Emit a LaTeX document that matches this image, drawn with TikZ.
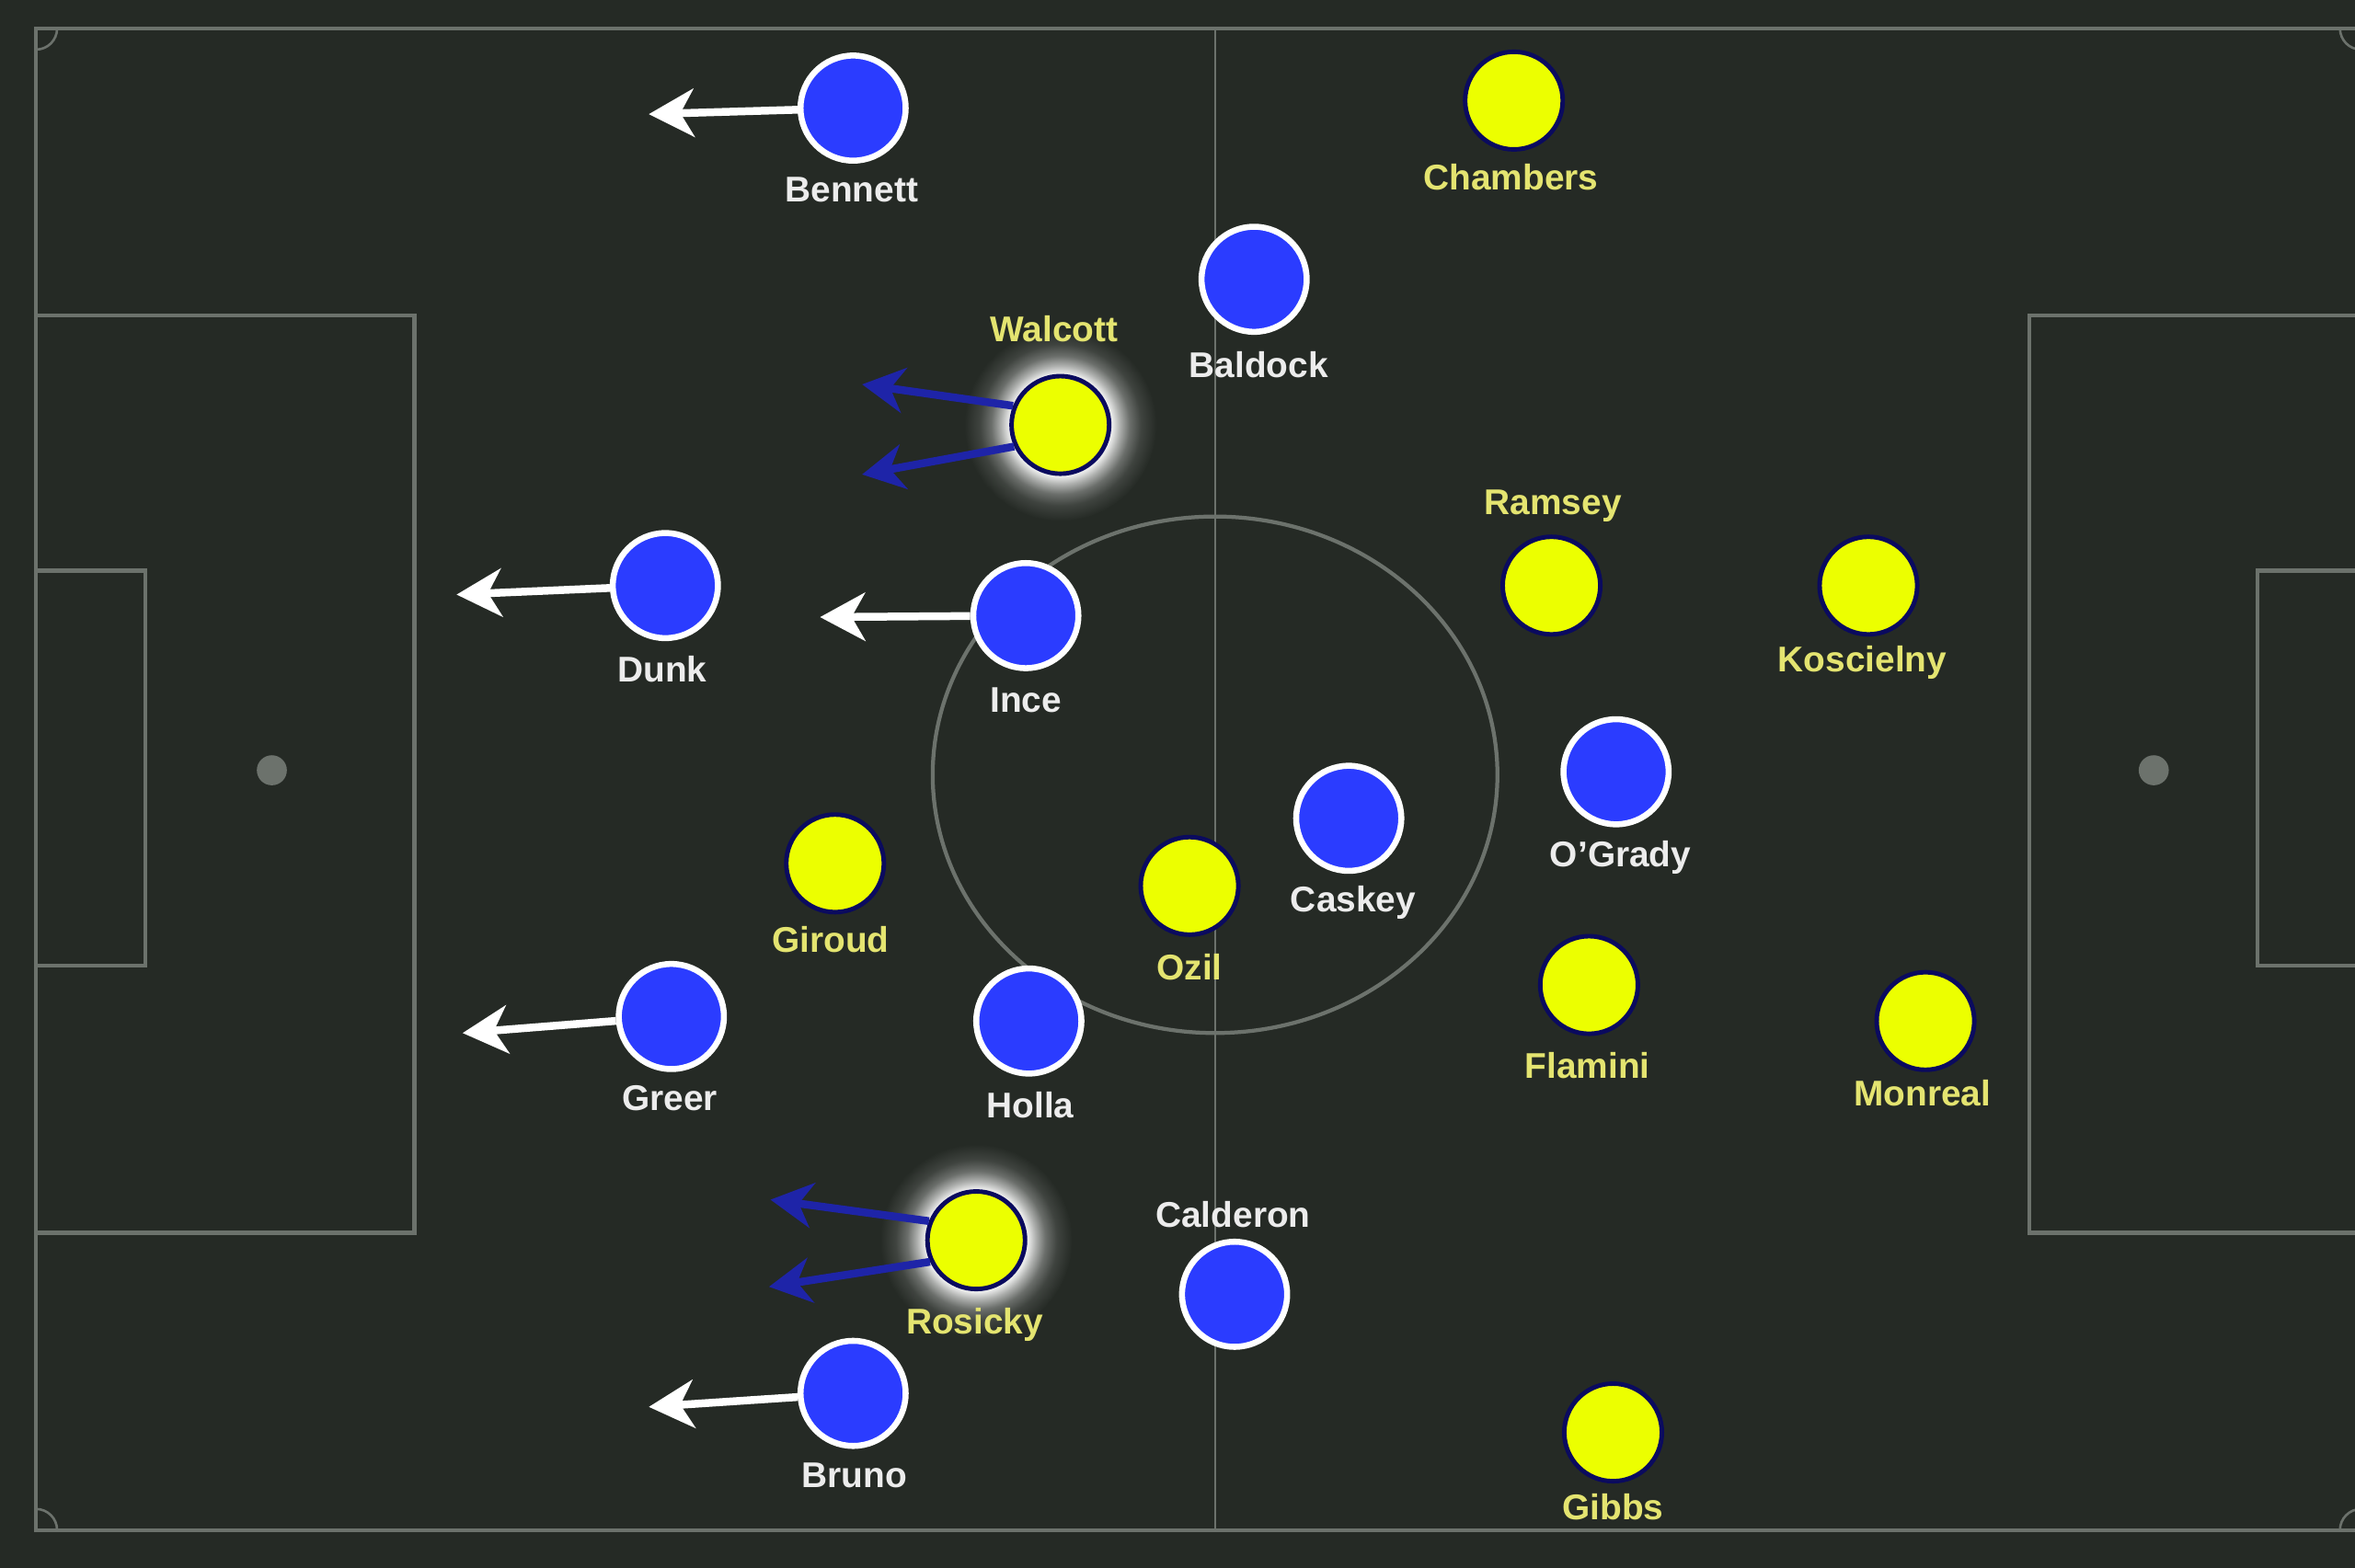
\documentclass[tikz,border=0pt]{standalone}
\usepackage{fontspec}
\setmainfont{Liberation Sans}
\usetikzlibrary{arrows.meta}
\definecolor{bgc}{RGB}{37,42,37}
\definecolor{plinec}{RGB}{108,114,108}
\definecolor{pblue}{RGB}{43,60,255}
\definecolor{pyellow}{RGB}{236,255,0}
\definecolor{pnavy}{RGB}{10,10,94}
\definecolor{blabc}{RGB}{236,236,236}
\definecolor{ylabc}{RGB}{228,228,112}
\definecolor{parrow}{RGB}{30,36,168}
\pgfdeclareradialshading{pglow}{\pgfpoint{0bp}{0bp}}{color(0bp)=(white!90!bgc); color(13.5bp)=(white!90!bgc); color(15.5bp)=(white!62!bgc); color(18bp)=(white!32!bgc); color(21bp)=(white!12!bgc); color(25bp)=(bgc); color(50bp)=(bgc)}
\newcommand{\labfont}{\fontsize{11.9}{13.5}\selectfont\bfseries}
\begin{document}
\begin{tikzpicture}[x=0.5pt,y=-0.5pt,
  pline/.style={draw=plinec, line width=1.3pt},
  bplayer/.style={circle, fill=pblue, draw=white, line width=2pt, minimum size=35pt, inner sep=0pt},
  yplayer/.style={circle, fill=pyellow, draw=pnavy, line width=1.5pt, minimum size=32.5pt, inner sep=0pt},
  blab/.style={text=blabc, font=\labfont, inner sep=0pt, text height=8.4pt, text depth=0pt, anchor=center},
  ylab/.style={text=ylabc, font=\labfont, inner sep=0pt, text height=8.4pt, text depth=0pt, anchor=center},
  warrow/.style={draw=white, line width=2.6pt, -{Stealth[length=15pt,width=16pt,inset=4.5pt]}},
  barrow/.style={draw=parrow, line width=2.6pt, -{Stealth[length=14pt,width=15pt,inset=4.5pt]}}
]
% background
\fill[bgc] (0,0) rectangle (1568,1044.3);
\useasboundingbox (0,0) rectangle (1568,1044.3);
% pitch markings
\draw[pline] (24,19) rectangle (1572,1019);
\draw[draw=plinec, line width=0.8pt] (809,19) -- (809,1019);
\draw[pline] (809,516) ellipse [x radius=188, y radius=172];
\draw[pline] (24,210) rectangle (276,821);
\draw[pline] (24,380) rectangle (97,643);
\fill[plinec] (181,513) circle [radius=10];
\draw[pline] (1572,210) rectangle (1351,821);
\draw[pline] (1572,380) rectangle (1503,643);
\fill[plinec] (1434,513) circle [radius=10];
\draw[draw=plinec, line width=0.8pt] (38,19) arc [start angle=0, end angle=90, radius=14];
\draw[draw=plinec, line width=0.8pt] (38,1019) arc [start angle=0, end angle=-90, radius=14];
\draw[draw=plinec, line width=0.8pt] (1558,19) arc [start angle=180, end angle=90, radius=14];
\draw[draw=plinec, line width=0.8pt] (1558,1019) arc [start angle=180, end angle=270, radius=14];
% glows
\shade[shading=pglow] (706,283) circle [radius=64];
\shade[shading=pglow] (650,826) circle [radius=64];
% blue players
\node[bplayer] (bennett) at (568,72) {};
\node[bplayer] (baldock) at (835,186) {};
\node[bplayer] (dunk) at (443,390) {};
\node[bplayer] (ince) at (683,410) {};
\node[bplayer] (caskey) at (898,545) {};
\node[bplayer] (ogrady) at (1076,514) {};
\node[bplayer] (greer) at (447,677) {};
\node[bplayer] (holla) at (685,680) {};
\node[bplayer] (calderon) at (822,862) {};
\node[bplayer] (bruno) at (568,928) {};
% yellow players
\node[yplayer] (chambers) at (1008,67) {};
\node[yplayer] (walcott) at (706,283) {};
\node[yplayer] (ramsey) at (1033,390) {};
\node[yplayer] (koscielny) at (1244,390) {};
\node[yplayer] (giroud) at (556,575) {};
\node[yplayer] (ozil) at (792,590) {};
\node[yplayer] (flamini) at (1058,656) {};
\node[yplayer] (monreal) at (1282,680) {};
\node[yplayer] (rosicky) at (650,826) {};
\node[yplayer] (gibbs) at (1074,954) {};
% labels
\node[blab] (lbennett) at (567,126) {Bennett};
\node[blab] (lbaldock) at (838,243) {Baldock};
\node[blab] (ldunk) at (441,446) {Dunk};
\node[blab] (lince) at (683,466) {Ince};
\node[blab] (lcaskey) at (901,599) {Caskey};
\node[blab] (logrady) at (1079,569) {O’Grady};
\node[blab] (lgreer) at (446,731) {Greer};
\node[blab] (lholla) at (686,736) {Holla};
\node[blab] (lcalderon) at (821,809) {Calderon};
\node[blab] (lbruno) at (569,982) {Bruno};
\node[ylab] (lchambers) at (1006,118) {Chambers};
\node[ylab] (lwalcott) at (702,219) {Walcott};
\node[ylab] (lramsey) at (1034,334) {Ramsey};
\node[ylab] (lkoscielny) at (1240,439) {Koscielny};
\node[ylab] (lgiroud) at (553,626) {Giroud};
\node[ylab] (lozil) at (792,644) {Ozil};
\node[ylab] (lflamini) at (1057,710) {Flamini};
\node[ylab] (lmonreal) at (1280,728) {Monreal};
\node[ylab] (lrosicky) at (649,880) {Rosicky};
\node[ylab] (lgibbs) at (1074,1004) {Gibbs};
% arrow end points
\coordinate (tbennett) at (432,76);
\coordinate (tdunk) at (304,396);
\coordinate (tince) at (546,411);
\coordinate (tgreer) at (308,688);
\coordinate (tbruno) at (432,937);
\coordinate (tw1) at (574,256);
\coordinate (tw2) at (574,316);
\coordinate (tr1) at (513,799);
\coordinate (tr2) at (512,857);
% white arrows
\draw[warrow] (bennett) -- (tbennett);
\draw[warrow] (dunk) -- (tdunk);
\draw[warrow] (ince) -- (tince);
\draw[warrow] (greer) -- (tgreer);
\draw[warrow] (bruno) -- (tbruno);
% blue arrows
\draw[barrow] (walcott.158) -- (tw1);
\draw[barrow] (walcott.205) -- (tw2);
\draw[barrow] (rosicky.158) -- (tr1);
\draw[barrow] (rosicky.205) -- (tr2);
\end{tikzpicture}
\end{document}
